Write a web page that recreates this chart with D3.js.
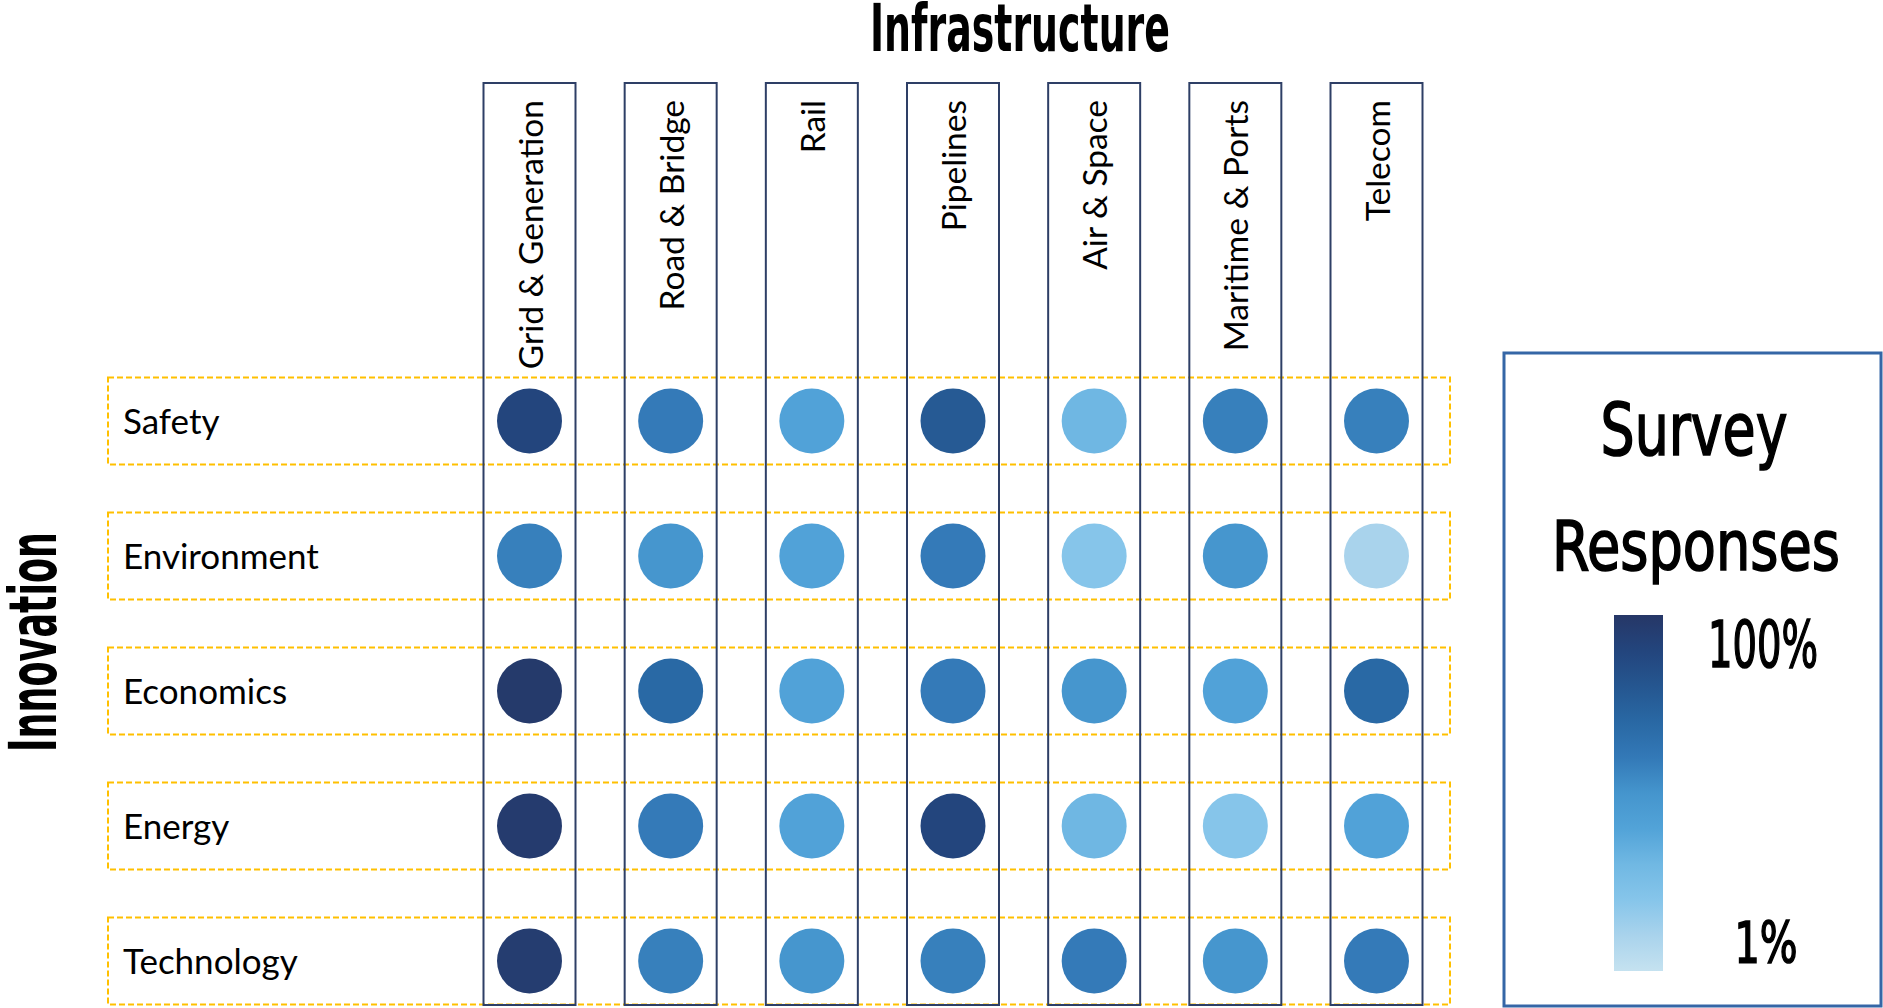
<!DOCTYPE html>
<html>
<head>
<meta charset="utf-8">
<script src="https://cdn.jsdelivr.net/npm/d3@7"></script>
<style>
  html, body { margin: 0; padding: 0; background: #fff; }
  svg { display: block; }
  .cond { font-family: "Liberation Sans Narrow", "DejaVu Sans Condensed", sans-serif; font-weight: bold; fill: #000; }
  .cond.medium { font-weight: normal; stroke: #000; stroke-width: 1.6px; }
  .lbl  { font-family: Lato, "Open Sans", sans-serif; font-size: 35px; fill: #000; }
  .col-lbl { font-size: 33.5px; }
</style>
</head>
<body>
<div id="chart"></div>
<script>
// data
const infrastructure = ["Grid & Generation", "Road & Bridge", "Rail", "Pipelines", "Air & Space", "Maritime & Ports", "Telecom"];
const innovation = ["Safety", "Environment", "Economics", "Energy", "Technology"];

// share of survey responses (%), one array per innovation row, in infrastructure order
const safety      = [90, 60, 41, 78, 31, 58, 58];
const environment = [58, 50, 41, 60, 21, 50, 11];
const economics   = [98, 70, 41, 60, 50, 41, 70];
const energy      = [97, 60, 41, 90, 31, 21, 41];
const technology  = [96, 58, 50, 58, 60, 50, 60];
const responses = [safety, environment, economics, energy, technology];

const legendTicks = ["100%", "1%"];
const colorStops = ["#c5e2f0", "#a9d3ec", "#86c5ea", "#70b8e3", "#52a3d8", "#4595cd",
                    "#3379b7", "#2968a4", "#255690", "#23457d", "#263767"];

(function () {
    const width = 1883, height = 1008;

    const svg = d3.select("#chart").append("svg")
        .attr("width", width).attr("height", height);

    // scales
    const x = d3.scalePoint().domain(infrastructure).range([529.5, 1376.5]);
    const y = d3.scalePoint().domain(innovation).range([421, 961]);
    const color = d3.scaleLinear()
        .domain(colorStops.map((c, i) => 1 + i * 99 / (colorStops.length - 1)))
        .range(colorStops)
        .interpolate(d3.interpolateRgb);

    const colW = 92, rowH = 87, r = 32.5;

    // row bands (dashed orange)
    svg.append("g").selectAll("rect")
        .data(innovation)
        .join("rect")
        .attr("x", 108)
        .attr("y", d => y(d) - rowH / 2)
        .attr("width", 1342)
        .attr("height", rowH)
        .attr("fill", "none")
        .attr("stroke", "#FFC000")
        .attr("stroke-width", 2)
        .attr("stroke-dasharray", "6,3");

    // column bands
    svg.append("g").selectAll("rect")
        .data(infrastructure)
        .join("rect")
        .attr("x", d => x(d) - colW / 2)
        .attr("y", 83)
        .attr("width", colW)
        .attr("height", 922)
        .attr("fill", "none")
        .attr("stroke", "#2E3F66")
        .attr("stroke-width", 2);

    // column labels, rotated
    svg.append("g").selectAll("text")
        .data(infrastructure)
        .join("text")
        .attr("class", "lbl col-lbl")
        .attr("transform", d => `translate(${x(d) + 13},100) rotate(-90)`)
        .attr("text-anchor", "end")
        .text(d => d);

    // row labels
    svg.append("g").selectAll("text")
        .data(innovation)
        .join("text")
        .attr("class", "lbl")
        .attr("x", 123)
        .attr("y", d => y(d) + 12.5)
        .text(d => d);

    // circles
    const cells = responses.flatMap((row, i) =>
        row.map((v, j) => ({ row: innovation[i], col: infrastructure[j], v })));

    svg.append("g").selectAll("circle")
        .data(cells)
        .join("circle")
        .attr("cx", d => x(d.col))
        .attr("cy", d => y(d.row))
        .attr("r", r)
        .attr("fill", d => color(d.v));

    // titles
    svg.append("text")
        .attr("class", "cond")
        .attr("x", 1020).attr("y", 51)
        .attr("text-anchor", "middle")
        .attr("font-size", 66)
        .attr("textLength", 300)
        .attr("lengthAdjust", "spacingAndGlyphs")
        .text("Infrastructure");

    svg.append("text")
        .attr("class", "cond")
        .attr("transform", "translate(56,642) rotate(-90)")
        .attr("text-anchor", "middle")
        .attr("font-size", 66)
        .attr("textLength", 220)
        .attr("lengthAdjust", "spacingAndGlyphs")
        .text("Innovation");

    // legend
    const lg = svg.append("g");
    lg.append("rect")
        .attr("x", 1504).attr("y", 353)
        .attr("width", 377).attr("height", 653)
        .attr("fill", "none")
        .attr("stroke", "#3566A6")
        .attr("stroke-width", 3);

    lg.append("text").attr("class", "cond medium")
        .attr("x", 1694).attr("y", 455)
        .attr("text-anchor", "middle")
        .attr("font-size", 73)
        .attr("textLength", 187).attr("lengthAdjust", "spacingAndGlyphs")
        .text("Survey");

    lg.append("text").attr("class", "cond medium")
        .attr("x", 1696).attr("y", 570)
        .attr("text-anchor", "middle")
        .attr("font-size", 70)
        .attr("textLength", 288).attr("lengthAdjust", "spacingAndGlyphs")
        .text("Responses");

    const defs = svg.append("defs");
    const grad = defs.append("linearGradient")
        .attr("id", "legend-grad")
        .attr("x1", 0).attr("y1", 1).attr("x2", 0).attr("y2", 0);
    grad.selectAll("stop")
        .data(colorStops)
        .join("stop")
        .attr("offset", (d, i) => i / (colorStops.length - 1))
        .attr("stop-color", d => d);

    const ly = d3.scaleLinear().domain([1, 100]).range([971, 615]);
    lg.append("rect")
        .attr("x", 1614).attr("y", ly(100))
        .attr("width", 49).attr("height", ly(1) - ly(100))
        .attr("fill", "url(#legend-grad)");

    lg.append("text").attr("class", "cond medium")
        .attr("x", 1763).attr("y", ly(100) + 52)
        .attr("text-anchor", "middle")
        .attr("font-size", 64)
        .attr("textLength", 110).attr("lengthAdjust", "spacingAndGlyphs")
        .text(legendTicks[0]);

    lg.append("text").attr("class", "cond medium")
        .attr("x", 1766).attr("y", ly(1) - 8)
        .attr("text-anchor", "middle")
        .attr("font-size", 57)
        .attr("textLength", 63).attr("lengthAdjust", "spacingAndGlyphs")
        .text(legendTicks[1]);
})();
</script>
</body>
</html>
